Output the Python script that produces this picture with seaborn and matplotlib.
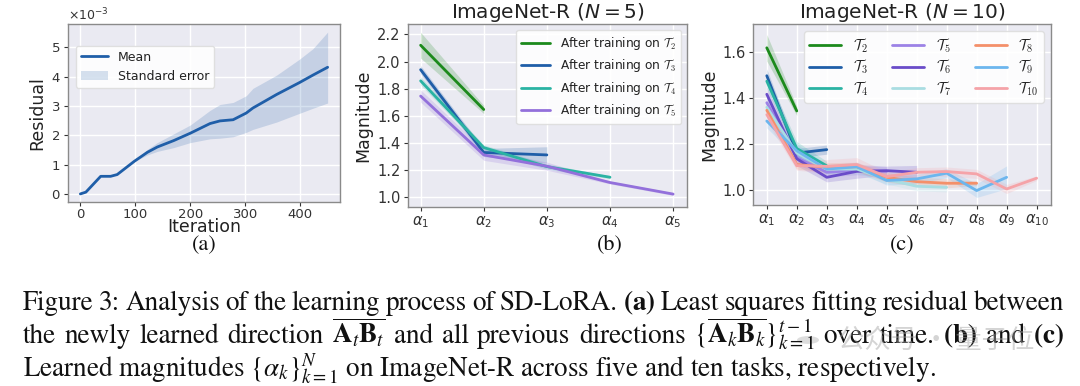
import numpy as np
import pandas as pd
import matplotlib
matplotlib.use("Agg")
import matplotlib.pyplot as plt
from matplotlib.patches import Circle
import seaborn as sns

# ---------------- data ----------------
# (a) residual vs iteration (units of 1e-3)
iter_x = [0, 10, 37, 55, 67, 98, 122, 140, 170, 200, 236, 254, 278, 302, 314, 357, 399, 423, 450]
resid_mean = [0.0, 0.06, 0.60, 0.60, 0.66, 1.11, 1.42, 1.60, 1.82, 2.07, 2.40, 2.49, 2.53, 2.76, 2.93, 3.39, 3.80, 4.05, 4.32]
resid_lo = [0.0, 0.06, 0.60, 0.60, 0.66, 1.10, 1.33, 1.45, 1.58, 1.75, 1.88, 1.90, 1.95, 2.10, 2.20, 2.45, 2.75, 2.92, 3.10]
resid_hi = [0.0, 0.06, 0.60, 0.60, 0.66, 1.12, 1.52, 1.75, 2.05, 2.35, 2.85, 3.05, 3.12, 3.35, 3.60, 4.05, 4.60, 4.95, 5.52]
resid_ticks = [0, 1, 2, 3, 4, 5]

# (b) ImageNet-R N=5
b_labels = ["After training on $\\mathcal{T}_2$", "After training on $\\mathcal{T}_3$",
            "After training on $\\mathcal{T}_4$", "After training on $\\mathcal{T}_5$"]
b_vals = [
    [2.12, 1.647],
    [1.94, 1.331, 1.313],
    [1.858, 1.367, 1.227, 1.149],
    [1.746, 1.313, 1.230, 1.110, 1.025],
]
b_err = [
    [0.095, 0.03],
    [0.03, 0.03, 0.06],
    [0.03, 0.02, 0.02, 0.01],
    [0.045, 0.04, 0.03, 0.01, 0.01],
]
b_colors = ["#1c8a1c", "#1f5ea8", "#2ab3a3", "#9370db"]

# (c) ImageNet-R N=10
c_labels = ["$\\mathcal{T}_{%d}$" % k for k in range(2, 11)]
c_vals = [
    [1.62, 1.344],
    [1.498, 1.16, 1.175],
    [1.474, 1.18, 1.104],
    [1.38, 1.14, 1.076, 1.085, 1.08],
    [1.417, 1.135, 1.054, 1.08, 1.083, 1.076],
    [1.36, 1.16, 1.09, 1.09, 1.045, 1.015, 1.01],
    [1.347, 1.11, 1.098, 1.10, 1.054, 1.035, 1.028, 1.028],
    [1.30, 1.17, 1.09, 1.10, 1.04, 1.047, 1.072, 0.996, 1.054],
    [1.328, 1.105, 1.102, 1.11, 1.057, 1.076, 1.079, 1.069, 1.003, 1.05],
]
c_err = [
    [0.058, 0.02],
    [0.03, 0.02, 0.02],
    [0.03, 0.03, 0.02],
    [0.03, 0.03, 0.02, 0.02, 0.02],
    [0.03, 0.03, 0.02, 0.03, 0.02, 0.03],
    [0.03, 0.03, 0.02, 0.02, 0.02, 0.02, 0.02],
    [0.03, 0.02, 0.02, 0.02, 0.02, 0.02, 0.02, 0.01],
    [0.03, 0.03, 0.02, 0.02, 0.02, 0.02, 0.02, 0.03, 0.05],
    [0.03, 0.02, 0.03, 0.03, 0.02, 0.02, 0.02, 0.02, 0.02, 0.01],
]
c_colors = ["#1c8a1c", "#1f5ea8", "#2ab3a3", "#9c82e6", "#6a4cc9",
            "#a9dde2", "#f4906a", "#6cb6ee", "#f5a3a8"]

# ---------------- style ----------------
sns.set_theme(style="darkgrid")
plt.rcParams.update({
    "font.family": ["DejaVu Sans"],
    "axes.edgecolor": "#8a8a8a",
    "axes.linewidth": 1.0,
    "xtick.bottom": True,
    "ytick.left": True,
    "xtick.major.size": 3,
    "ytick.major.size": 3,
    "xtick.color": "#333333",
    "ytick.color": "#333333",
    "xtick.major.width": 0.8,
    "ytick.major.width": 0.8,
    "xtick.major.pad": 2.5,
    "ytick.major.pad": 2.5,
    "axes.labelcolor": "#222222",
    "text.color": "#222222",
})

fig = plt.figure(figsize=(10.8, 3.86), dpi=100)
W, H = 1080, 386


def add_ax(l, t, r, b):
    return fig.add_axes([l / W, 1 - b / H, (r - l) / W, (b - t) / H])


# ---------------- (a) ----------------
ax = add_ax(68, 24, 340, 202)
blue = "#1f5ea8"
df_a = pd.DataFrame({"Iteration": iter_x, "Residual": np.array(resid_mean) * 1e-3})
sns.lineplot(data=df_a, x="Iteration", y="Residual", ax=ax, color=blue, lw=2, label="Mean")
ax.fill_between(iter_x, np.array(resid_lo) * 1e-3, np.array(resid_hi) * 1e-3,
                color=blue, alpha=0.18, lw=0, label="Standard error")
ax.set_yticks(np.array(resid_ticks) * 1e-3)
ax.ticklabel_format(axis="y", style="sci", scilimits=(0, 0), useMathText=True)
ax.yaxis.get_offset_text().set_fontsize(9)
ax.set_xticks([0, 100, 200, 300, 400])
ax.tick_params(labelsize=9.5)
ax.tick_params(axis="x", pad=1.5)
ax.set_xlabel("Iteration", fontsize=12.5, labelpad=-2.5)
ax.set_ylabel("Residual", fontsize=12.5, labelpad=3)
leg = ax.legend(loc="upper left", bbox_to_anchor=(0.0, 0.92), fontsize=9, frameon=True,
                facecolor="white", framealpha=0.9, edgecolor="#dddddd",
                borderaxespad=0.6, handlelength=2.2)

# ---------------- (b) ----------------
ax = add_ax(408, 24, 687, 207)
rows = []
for lab, vals in zip(b_labels, b_vals):
    for i, v in enumerate(vals):
        rows.append({"pos": i + 1, "val": v, "task": lab})
df_b = pd.DataFrame(rows)
sns.lineplot(data=df_b, x="pos", y="val", hue="task", palette=b_colors, ax=ax, lw=2,
             errorbar=None)
for vals, err, col in zip(b_vals, b_err, b_colors):
    xs = np.arange(1, len(vals) + 1)
    ax.fill_between(xs, np.array(vals) - np.array(err), np.array(vals) + np.array(err),
                    color=col, alpha=0.2, lw=0)
ax.set_xlim(0.8, 5.22)
ax.set_ylim(0.93, 2.276)
ax.set_xticks(range(1, 6))
ax.set_xticklabels(["$\\alpha_{%d}$" % k for k in range(1, 6)])
ax.set_yticks([1.0, 1.2, 1.4, 1.6, 1.8, 2.0, 2.2])
ax.tick_params(labelsize=10.5)
ax.set_xlabel("")
ax.set_ylabel("Magnitude", fontsize=12.5, labelpad=3)
ax.set_title("ImageNet-R ($N = 5$)", fontsize=14.5, pad=2)
leg = ax.legend(loc="upper right", fontsize=8.7, frameon=True, facecolor="white",
                framealpha=0.9, edgecolor="#dddddd", handlelength=2.4,
                borderaxespad=0.5, labelspacing=0.45)
for t in leg.get_texts():
    t.set_math_fontfamily("cm")

# ---------------- (c) ----------------
ax = add_ax(753, 24, 1051, 205)
rows = []
for lab, vals in zip(c_labels, c_vals):
    for i, v in enumerate(vals):
        rows.append({"pos": i + 1, "val": v, "task": lab})
df_c = pd.DataFrame(rows)
sns.lineplot(data=df_c, x="pos", y="val", hue="task", palette=c_colors, ax=ax, lw=2,
             errorbar=None)
for vals, err, col in zip(c_vals, c_err, c_colors):
    xs = np.arange(1, len(vals) + 1)
    ax.fill_between(xs, np.array(vals) - np.array(err), np.array(vals) + np.array(err),
                    color=col, alpha=0.2, lw=0)
ax.set_xlim(0.54, 10.48)
ax.set_ylim(0.933, 1.724)
ax.set_xticks(range(1, 11))
ax.set_xticklabels(["$\\alpha_{%d}$" % k for k in range(1, 11)])
ax.set_yticks([1.0, 1.2, 1.4, 1.6])
ax.tick_params(labelsize=10.5)
ax.set_xlabel("")
ax.set_ylabel("Magnitude", fontsize=12.5, labelpad=3)
ax.set_title("ImageNet-R ($N = 10$)", fontsize=14.5, pad=2)
leg = ax.legend(loc="upper right", ncol=3, fontsize=10.5, frameon=True, facecolor="white",
                framealpha=0.9, edgecolor="#dddddd", handlelength=2.2,
                borderaxespad=0.5, labelspacing=0.2, columnspacing=1.6,
                borderpad=0.35)
for t in leg.get_texts():
    t.set_math_fontfamily("cm")

# ---------------- panel labels ----------------
for x, lab in [(204, "(a)"), (610, "(b)"), (902, "(c)")]:
    fig.text(x / W, 1 - 245 / H, lab, fontsize=16, family="STIXGeneral",
             ha="center", va="center", color="#111111")

# ---------------- caption (first two lines justified) ----------------
cap = [
    "Figure 3: Analysis of the learning process of SD-LoRA. $\\mathbf{(a)}$ Least squares fitting residual between",
    "the newly learned direction $\\overline{\\mathbf{A}_t\\mathbf{B}_t}$ and all previous directions "
    "$\\{\\overline{\\mathbf{A}_k\\mathbf{B}_k}\\}_{k=1}^{t-1}$ over time. $\\mathbf{(b)}$ and $\\mathbf{(c)}$",
    "Learned magnitudes $\\{\\alpha_k\\}_{k=1}^{N}$ on ImageNet-R across five and ten tasks, respectively.",
]
cap_base = [310, 343, 376]
renderer = fig.canvas.get_renderer()
for i, (line, yb) in enumerate(zip(cap, cap_base)):
    if i == 2:
        fig.text(23 / W, 1 - yb / H, line, fontsize=19.5, family="STIXGeneral",
                 math_fontfamily="stix", ha="left", va="baseline", color="#111111")
        continue
    words = line.split(" ")
    texts = [fig.text(0, 1 - yb / H, w, fontsize=19.5, family="STIXGeneral",
                      math_fontfamily="stix", ha="left", va="baseline", color="#111111")
             for w in words]
    widths = [t.get_window_extent(renderer).width for t in texts]
    x0, xr = 23, 1064
    gap = (xr - x0 - sum(widths)) / (len(words) - 1)
    x = x0
    for t, w in zip(texts, widths):
        t.set_x(x / W)
        x += w + gap

# watermark
fig.patches.append(Circle((808 / W, 1 - 340 / H), 11 / W, transform=fig.transFigure,
                          facecolor="#bdbdbd", alpha=0.5, edgecolor="none",
                          figure=fig))
fig.text(838 / W, 1 - 340 / H, "公众号 · 量子位", fontsize=19,
         family=["Noto Sans CJK SC", "DejaVu Sans"], color="#a0a0a0", alpha=0.45,
         ha="left", va="center")

fig.savefig("out.png", dpi=100)
